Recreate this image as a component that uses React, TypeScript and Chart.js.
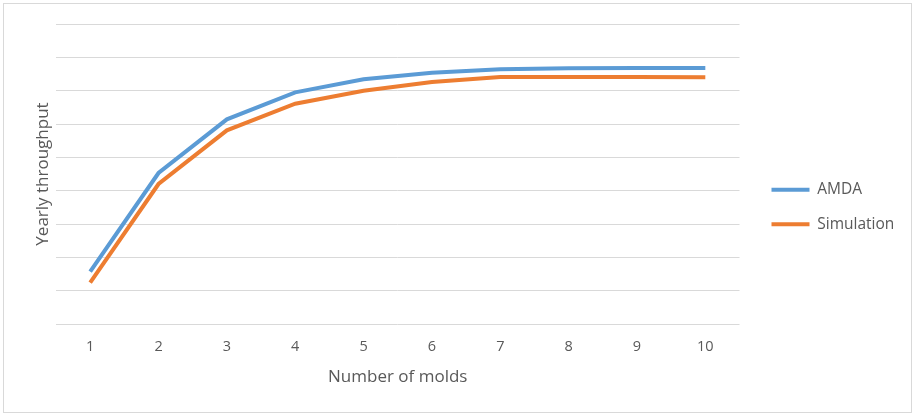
import React, { useEffect, useRef } from "react";
import { Chart, registerables } from "chart.js";

Chart.register(...registerables);

const categories = ["1", "2", "3", "4", "5", "6", "7", "8", "9", "10"];
const amdaValues = [1.57, 4.53, 6.14, 6.95, 7.34, 7.54, 7.64, 7.67, 7.68, 7.68];
const simulationValues = [1.24, 4.2, 5.81, 6.61, 7.0, 7.26, 7.41, 7.41, 7.41, 7.4];
const seriesNames = ["AMDA", "Simulation"];
const seriesColors = ["#5B9BD5", "#ED7D31"];
const xTitle = "Number of molds";
const yTitle = "Yearly throughput";

const TEXT = "#595959";
const GRID = "#d9d9d9";
const FONT = "'Open Sans', sans-serif";

export default function App() {
  const ref = useRef<HTMLCanvasElement | null>(null);

  useEffect(() => {
    if (!ref.current) return;
    const chart = new Chart(ref.current, {
      type: "line",
      data: {
        labels: categories,
        datasets: [
          {
            label: seriesNames[0],
            data: amdaValues,
            borderColor: seriesColors[0],
            backgroundColor: seriesColors[0],
            borderWidth: 4,
            pointRadius: 0,
            tension: 0,
            fill: false,
          },
          {
            label: seriesNames[1],
            data: simulationValues,
            borderColor: seriesColors[1],
            backgroundColor: seriesColors[1],
            borderWidth: 4,
            pointRadius: 0,
            tension: 0,
            fill: false,
          },
        ],
      },
      options: {
        responsive: false,
        animation: false,
        events: [],
        layout: { padding: { top: 0, left: 0, right: 10, bottom: 0 } },
        plugins: {
          tooltip: { enabled: false },
          legend: {
            display: true,
            position: "right",
            align: "center",
            labels: {
              boxWidth: 38,
              boxHeight: 4,
              padding: 19,
              color: TEXT,
              font: { family: FONT, size: 15.5 },
              generateLabels: (c: any) =>
                c.data.datasets.map((ds: any, i: number) => ({
                  text: ds.label,
                  fillStyle: ds.borderColor,
                  strokeStyle: ds.borderColor,
                  lineWidth: 0,
                  fontColor: TEXT,
                  hidden: false,
                  datasetIndex: i,
                })),
            },
          },
        },
        scales: {
          x: {
            type: "category",
            offset: true,
            grid: { display: false, drawTicks: false },
            border: { display: false },
            ticks: {
              color: TEXT,
              padding: 14,
              font: { family: FONT, size: 14.5 },
              maxRotation: 0,
            },
            title: {
              display: true,
              text: xTitle,
              color: TEXT,
              font: { family: FONT, size: 17 },
              padding: { top: 0, bottom: 27 },
            },
            afterFit: (s: any) => {
              s.height = 90;
            },
          },
          xTop: {
            type: "category",
            position: "top",
            display: true,
            grid: { display: false, drawTicks: false },
            border: { display: false },
            ticks: { display: false },
            afterFit: (s: any) => {
              s.height = 24;
            },
          },
          y: {
            type: "linear",
            position: "left",
            min: 0,
            max: 9,
            ticks: { display: false, stepSize: 1 },
            grid: { color: GRID, lineWidth: 1, drawTicks: false },
            border: { display: false },
            title: {
              display: true,
              text: yTitle,
              color: TEXT,
              font: { family: FONT, size: 17 },
              padding: { top: 33, bottom: 0 },
            },
            afterFit: (s: any) => {
              s.width = 56;
            },
          },
          y2: {
            type: "linear",
            position: "right",
            display: true,
            ticks: { display: false },
            grid: { display: false, drawTicks: false },
            border: { display: false },
            afterFit: (s: any) => {
              s.width = 13;
            },
          },
        },
      },
    });
    return () => chart.destroy();
  }, []);

  return (
    <div
      style={{
        position: "fixed",
        left: 0,
        top: 0,
        width: 913,
        height: 414,
        background: "#ffffff",
      }}
    >
      <canvas ref={ref} width={913} height={414} style={{ position: "absolute", left: 0, top: 0 }} />
      <div
        style={{
          position: "absolute",
          left: 3,
          top: 3,
          width: 907,
          height: 408,
          border: "1px solid #d9d9d9",
          pointerEvents: "none",
        }}
      />
    </div>
  );
}
